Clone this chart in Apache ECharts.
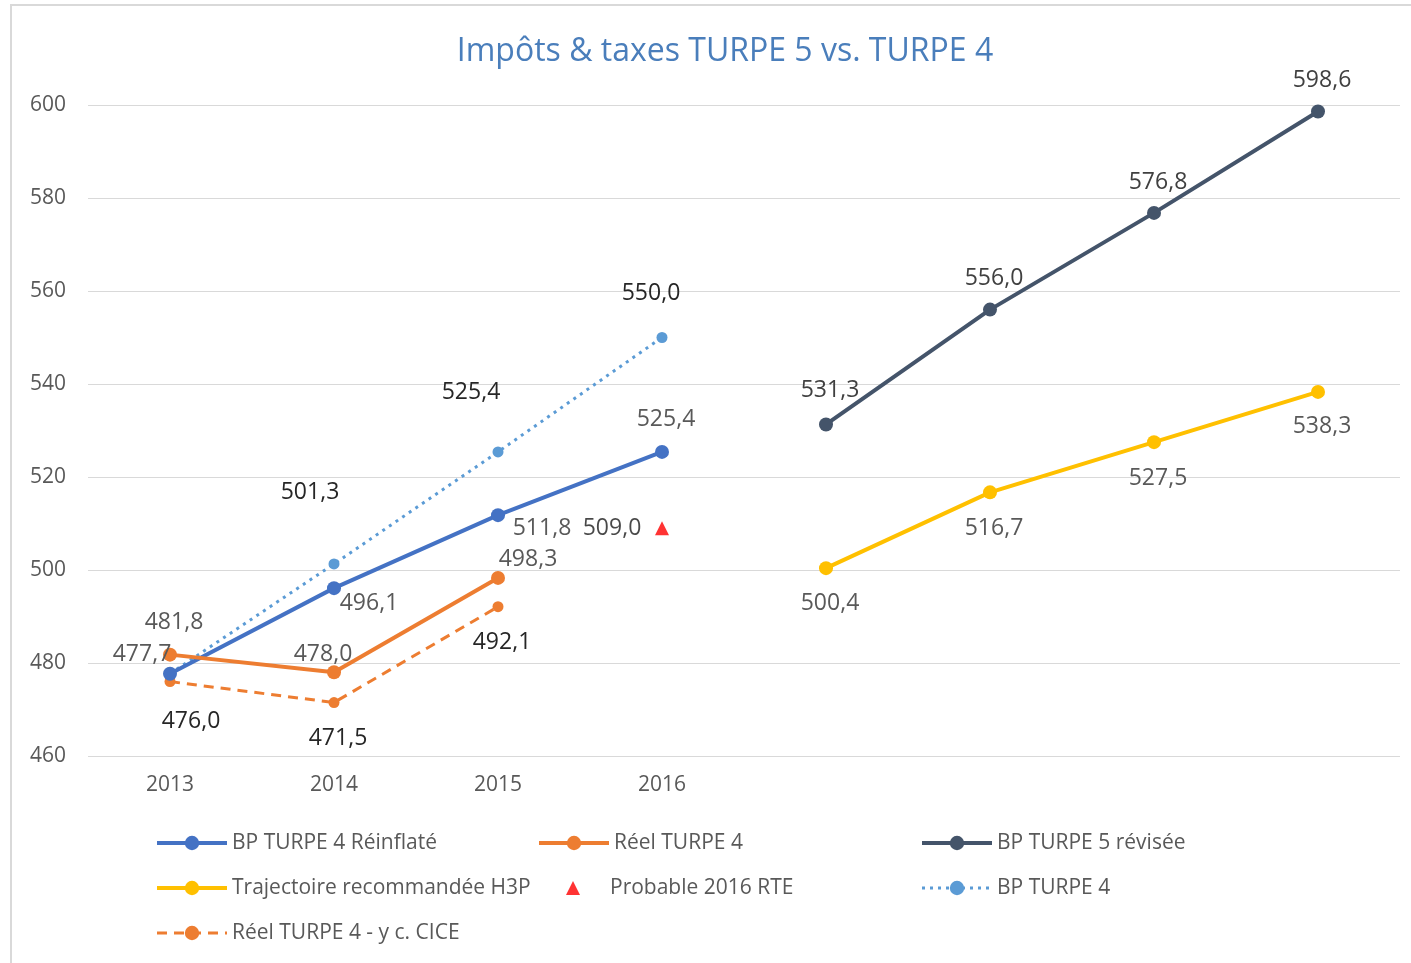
<!DOCTYPE html>
<html>
<head>
<meta charset="utf-8">
<script src="https://cdn.jsdelivr.net/npm/echarts@6/dist/echarts.min.js"></script>
<style>
  html, body { margin: 0; padding: 0; background: #fff; }
  #chart { width: 1411px; height: 963px; }
  .frame {
    position: absolute; left: 10px; top: 4px; right: 0; bottom: 0;
    border-left: 2px solid #d9d9d9; border-top: 2px solid #d9d9d9;
    pointer-events: none;
  }
</style>
</head>
<body>
<div id="chart"></div>
<div class="frame"></div>
<script>
const years = ['2013', '2014', '2015', '2016', '2017', '2018', '2019', '2020'];
const shownYears = ['2013', '2014', '2015', '2016'];

const bpTurpe4Reinflate = [477.7, 496.1, 511.8, 525.4, null, null, null, null];
const reelTurpe4 = [481.8, 478.0, 498.3, null, null, null, null, null];
const bpTurpe5Revisee = [null, null, null, null, 531.3, 556.0, 576.8, 598.6];
const trajectoireH3P = [null, null, null, null, 500.4, 516.7, 527.5, 538.3];
const probableRTE = [null, null, null, 509.0, null, null, null, null];
const bpTurpe4 = [477.7, 501.3, 525.4, 550.0, null, null, null, null];
const reelTurpe4Cice = [476.0, 471.5, 492.1, null, null, null, null, null];

// décalage des étiquettes (comme dans le graphique Excel)
const offBlue = [[-28, -19], [35, 15], [44, 13], [4, -32]];
const offOrange = [[4, -32], [-11, -18], [30, -18]];
const offDark = [null, null, null, null, [4, -34], [4, -31], [4, -30], [4, -31]];
const offYellow = [null, null, null, null, [4, 35], [4, 36], [4, 36], [4, 35]];
const offRTE = [null, null, null, [-50, 0]];
const offDotted = [null, [-24, -72], [-27, -59], [-11, -44]];
const offDashed = [[21, 40], [4, 36], [4, 36]];

const FONT = '"Open Sans", "Noto Sans", sans-serif';
const fmt = (p) => Number(p.value).toFixed(1).replace('.', ',');

const mk = (values, offsets) => values.map((v, i) => {
  if (v == null) return '-';
  const off = offsets[i];
  if (!off) return { value: v, label: { show: false } };
  return { value: v, label: { offset: off } };
});

const labelBase = (color) => ({
  show: true,
  position: 'inside',
  formatter: fmt,
  color: color,
  fontSize: 23,
  fontFamily: FONT
});

const chart = echarts.init(document.getElementById('chart'));

const legendText = { color: '#595959', fontSize: 21, fontFamily: FONT, lineHeight: 24 };
const legendCommon = {
  orient: 'vertical',
  top: 826,
  itemWidth: 70,
  itemHeight: 18,
  itemGap: 21,
  textStyle: legendText,
  selectedMode: false
};
const thick = (name) => ({ name: name, lineStyle: { width: 4 } });
const thin = (name) => ({ name: name, lineStyle: { width: 3 } });

const option = {
  animation: false,
  title: {
    text: 'Impôts & taxes TURPE 5 vs. TURPE 4',
    left: 720,
    textAlign: 'center',
    top: 31,
    textStyle: { color: '#4A7EBB', fontSize: 32, fontWeight: 'normal', fontFamily: FONT }
  },
  legend: [
    Object.assign({ left: 150, data: [thick('BP TURPE 4 Réinflaté'), thick('Trajectoire recommandée H3P'), thin('Réel TURPE 4 - y c. CICE')] }, legendCommon),
    Object.assign({ left: 532, data: [thick('Réel TURPE 4')] }, legendCommon),
    Object.assign({}, legendCommon, {
      left: 561, top: 871, itemWidth: 14, itemHeight: 14,
      textStyle: Object.assign({}, legendText, { padding: [0, 0, 0, 25] }),
      data: ['Probable 2016 RTE']
    }),
    Object.assign({ left: 915, data: [thick('BP TURPE 5 révisée'), thin('BP TURPE 4')] }, legendCommon)
  ],
  grid: { left: 88, right: 11, top: 105, bottom: 207 },
  xAxis: {
    type: 'category',
    data: years,
    boundaryGap: true,
    axisLine: { show: false },
    axisTick: { show: false },
    axisLabel: {
      color: '#595959', fontSize: 21, fontFamily: FONT, margin: 19,
      formatter: (v) => shownYears.includes(v) ? v : ''
    }
  },
  yAxis: {
    type: 'value',
    min: 460,
    max: 600,
    interval: 20,
    axisLine: { show: false },
    axisTick: { show: false },
    axisLabel: { color: '#595959', fontSize: 21, fontFamily: FONT, margin: 22 },
    splitLine: { lineStyle: { color: '#d9d9d9', width: 1 } }
  },
  series: [
    {
      name: 'BP TURPE 4',
      type: 'line',
      data: mk(bpTurpe4, offDotted),
      symbol: 'circle', symbolSize: 11,
      itemStyle: { color: '#5B9BD5' },
      lineStyle: { color: '#5B9BD5', width: 3, type: [3, 5] },
      label: labelBase('#262626')
    },
    {
      name: 'Réel TURPE 4 - y c. CICE',
      type: 'line',
      data: mk(reelTurpe4Cice, offDashed),
      symbol: 'circle', symbolSize: 11,
      itemStyle: { color: '#ED7D31' },
      lineStyle: { color: '#ED7D31', width: 3, type: [10, 7] },
      label: labelBase('#262626')
    },
    {
      name: 'BP TURPE 4 Réinflaté',
      type: 'line',
      data: mk(bpTurpe4Reinflate, offBlue),
      symbol: 'circle', symbolSize: 14,
      itemStyle: { color: '#4472C4' },
      lineStyle: { color: '#4472C4', width: 4 },
      label: labelBase('#595959')
    },
    {
      name: 'Réel TURPE 4',
      type: 'line',
      data: mk(reelTurpe4, offOrange),
      symbol: 'circle', symbolSize: 14,
      itemStyle: { color: '#ED7D31' },
      lineStyle: { color: '#ED7D31', width: 4 },
      label: labelBase('#595959')
    },
    {
      name: 'BP TURPE 5 révisée',
      type: 'line',
      data: mk(bpTurpe5Revisee, offDark),
      symbol: 'circle', symbolSize: 14,
      itemStyle: { color: '#44546A' },
      lineStyle: { color: '#44546A', width: 4 },
      label: labelBase('#404040')
    },
    {
      name: 'Trajectoire recommandée H3P',
      type: 'line',
      data: mk(trajectoireH3P, offYellow),
      symbol: 'circle', symbolSize: 14,
      itemStyle: { color: '#FFC000' },
      lineStyle: { color: '#FFC000', width: 4 },
      label: labelBase('#595959')
    },
    {
      name: 'Probable 2016 RTE',
      type: 'scatter',
      data: mk(probableRTE, offRTE),
      symbol: 'triangle', symbolSize: 14,
      itemStyle: { color: '#FF0000' },
      label: labelBase('#1a1a1a')
    }
  ]
};

chart.setOption(option);
window.addEventListener('resize', () => chart.resize());
</script>
</body>
</html>
